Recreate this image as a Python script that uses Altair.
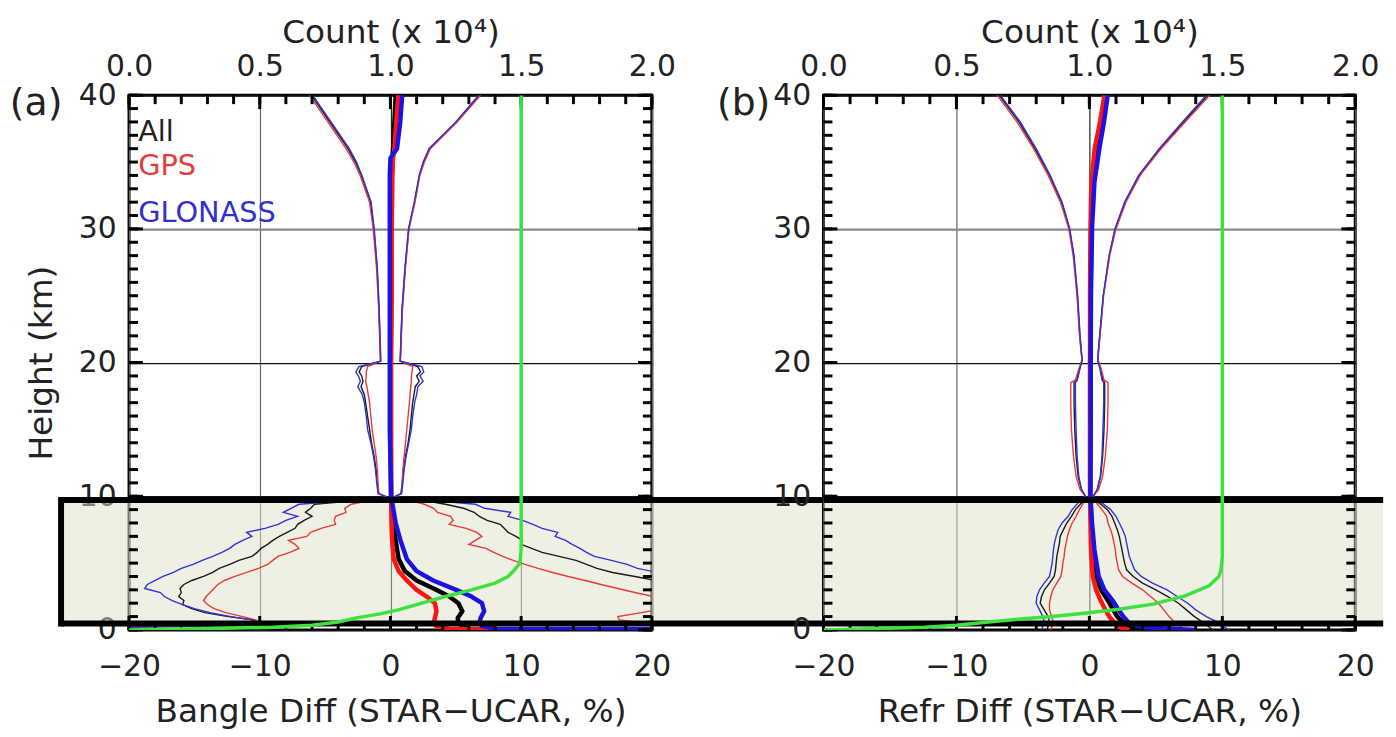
import altair as alt
import pandas as pd

FONT = "DejaVu Sans"
W_A, W_B, H = 527, 536, 539
SPACING = 173

SYSTEMS = ["All", "GPS", "GLONASS"]
ENV_COLORS = {"All": "#1a1a1a", "GPS": "#e83a3a", "GLONASS": "#3232d6"}
MEAN_COLORS = {"All": "#000000", "GPS": "#ff1414", "GLONASS": "#1e12e0"}
TEXT_COLORS = {"All": "#222222", "GPS": "#e83a3a", "GLONASS": "#3030cc"}
GREEN = "#3ee23e"

X_LABELS = [-20, -10, 0, 10, 20]
Y_LABELS = [0, 10, 20, 30, 40]
COUNT_LABELS = [0.0, 0.5, 1.0, 1.5, 2.0]
Y_MINOR = list(range(0, 41))
Y_MAJOR = [0, 10, 20, 30, 40]
X_MINOR = list(range(-20, 21, 2))
X_MAJOR = [-20, -10, 0, 10, 20]
BOX_Y = [0.48, 9.72]

# ---------------- panel (a): bending angle ----------------
A_H = [40, 38, 36, 35, 34, 32, 30, 27, 24, 21, 20.1,
       19.7, 19.3, 19.0, 18.6, 18.2, 17.6, 17.0, 16, 15, 14, 13, 12, 11, 10.2, 9.95,
       9.7, 9.4, 9.1, 8.8, 8.5, 8.2, 7.9, 7.6, 7.3, 7.0,
       6.7, 6.4, 6.1, 5.8, 5.5, 5.2, 4.9, 4.6, 4.3, 4.0,
       3.7, 3.4, 3.1, 2.8, 2.5, 2.2, 1.9, 1.6, 1.3, 1.0,
       0.75, 0.5, 0.3, 0.15, 0.0]
A_ALL_LO = [-6.05, -4.65, -3.25, -2.68, -2.22, -1.52, -1.27, -1.02, -0.88, -0.78, -0.75,
            -2.2, -2.4, -2.2, -2.1, -2.25, -2.0, -1.9, -1.75, -1.6, -1.45, -1.25, -1.1, -1.0, -0.9, -0.3,
            -2.5, -5.8, -6.1, -6.5, -6.0, -6.6, -7.1, -7.3, -7.9, -8.5,
            -9.0, -9.4, -9.9, -10.2, -10.6, -11.6, -12.3, -13.1, -13.6, -14.3,
            -15.2, -15.8, -16.1, -16.0, -16.2, -15.8, -15.9, -15.2, -14.2, -12.4,
            -10.5, -10.1, -12.3, -25.5, -45]
A_GPS_LO = [-6.2, -4.8, -3.4, -2.8, -2.32, -1.6, -1.32, -1.06, -0.9, -0.8, -0.77,
            -1.75, -1.85, -1.85, -1.9, -1.8, -1.7, -1.6, -1.5, -1.4, -1.25, -1.1, -1.0, -0.95, -0.88, -0.3,
            -1.5, -3.0, -3.5, -3.4, -4.2, -4.3, -4.2, -5.3, -6.1, -6.4,
            -7.8, -7.3, -7.0, -7.7, -8.6, -9.0, -9.4, -10.1, -11.0, -11.9,
            -12.7, -13.2, -13.5, -13.8, -14.1, -14.3, -14.0, -13.5, -12.6, -11.3,
            -10.3, -10.0, -12.0, -25, -45]
A_GLO_LO = [-5.95, -4.55, -3.15, -2.6, -2.18, -1.48, -1.24, -1.0, -0.86, -0.76, -0.74,
            -2.4, -2.65, -2.45, -2.3, -2.5, -2.15, -2.0, -1.85, -1.75, -1.5, -1.3, -1.15, -1.05, -0.95, -0.3,
            -3.0, -7.0, -7.6, -8.2, -7.1, -8.0, -8.6, -9.6, -11.0, -10.6,
            -11.3, -11.9, -12.3, -12.9, -13.6, -14.4, -15.1, -16.0, -16.6, -17.4,
            -18.0, -18.6, -18.8, -17.6, -17.3, -16.7, -15.9, -15.0, -13.8, -12.2,
            -10.6, -10.2, -12.5, -26, -45]
A_ALL_HI = [6.8, 5.05, 3.0, 2.55, 2.22, 1.85, 1.4, 1.12, 0.9, 0.78, 0.75,
            2.1, 2.3, 2.0, 2.2, 1.9, 1.8, 1.7, 1.6, 1.5, 1.35, 1.15, 1.0, 0.9, 0.8, 0.3,
            2.5, 4.2, 5.6, 6.4, 6.8, 7.4, 8.4, 8.7, 9.0, 9.6,
            10.1, 10.0, 10.8, 11.6, 12.9, 14.2, 15.0, 15.8, 17.0, 18.7,
            20.3, 21.5, 22.5, 23.5, 24.5, 25.5, 26.5, 27.5, 28.5, 29.5,
            30.5, 32, 35, 40, 45]
A_GPS_HI = [6.9, 5.1, 3.05, 2.6, 2.25, 1.88, 1.42, 1.14, 0.92, 0.8, 0.76,
            1.7, 1.65, 1.6, 1.6, 1.55, 1.5, 1.45, 1.35, 1.25, 1.15, 1.05, 0.95, 0.9, 0.85, 0.3,
            1.5, 2.6, 3.3, 3.6, 4.6, 4.8, 4.5, 5.8, 6.6, 7.0,
            6.5, 6.0, 7.3, 7.9, 8.6, 9.4, 10.3, 11.3, 12.4, 13.6,
            14.9, 16.1, 17.4, 18.7, 20.1, 21.5, 22.2, 21.0, 19.2, 17.4,
            17.5, 19.5, 24, 32, 45]
A_GLO_HI = [6.75, 5.0, 2.95, 2.5, 2.2, 1.82, 1.38, 1.1, 0.88, 0.77, 0.74,
            2.4, 2.55, 2.25, 2.5, 2.1, 2.0, 1.85, 1.7, 1.6, 1.4, 1.2, 1.05, 0.95, 0.85, 0.3,
            3.0, 6.5, 7.2, 9.2, 9.0, 10.1, 10.9, 11.6, 12.8, 12.6,
            13.4, 13.9, 14.5, 15.0, 15.6, 16.9, 18.1, 18.9, 20.4, 21.5,
            22.5, 23.5, 24.5, 25.5, 26.5, 27.5, 28.5, 29.5, 30.5, 31.5,
            32.5, 34, 37, 41, 45]
A_MH = [40, 38, 36, 35.3, 34, 30, 25, 20, 15, 10, 8.0, 6.75, 5.3, 4.4, 3.7, 3.0, 2.5, 2.0, 1.4, 0.9, 0.5, 0.3, 0.08, 0.0]
A_ALL_M = [0.4, 0.3, 0.2, 0.15, 0.1, 0.05, 0.05, 0.02, 0.02, 0.05, 0.2, 0.38, 0.63, 1.1, 2.0, 3.5, 4.5, 5.2, 5.5, 5.15, 5.2, 5.5, 6.0, 16]
A_GPS_M = [0.6, 0.45, 0.3, 0.2, 0.15, 0.1, 0.1, 0.05, 0.05, 0.05, 0.08, 0.12, 0.25, 0.63, 1.25, 2.0, 2.77, 3.4, 3.52, 3.4, 3.3, 3.5, 4.5, 12.5]
A_GLO_M = [0.9, 0.75, 0.5, 0.0, -0.05, -0.05, -0.05, -0.05, -0.05, 0.05, 0.4, 0.75, 1.25, 2.0, 3.27, 5.03, 6.2, 7.0, 7.17, 6.9, 6.8, 7.0, 8.0, 40]
A_CH = [40, 6.0, 5.0, 4.5, 4.0, 3.5, 3.0, 2.5, 2.0, 1.5, 1.2, 0.9, 0.6, 0.35, 0.2, 0.1, 0.0]
A_CNT = [1.5, 1.5, 1.495, 1.475, 1.45, 1.40, 1.31, 1.21, 1.12, 1.03, 0.96, 0.87, 0.8, 0.7, 0.55, 0.3, 0.0]

# ---------------- panel (b): refractivity ----------------
B_H = [40, 38, 36, 34, 32, 30, 28, 25, 22, 20.2,
       19.5, 18.7, 18.5, 17, 15, 13, 11.5, 10.5, 10.0,
       9.6, 9.0, 8.5, 8.0, 7.5, 7.0, 6.5, 6.0, 5.5, 5.0, 4.5,
       4.0, 3.5, 3.0, 2.5, 2.0, 1.5, 1.0, 0.6, 0.3, 0.0]
B_ALL_LO = [-6.8, -5.3, -4.1, -3.0, -2.1, -1.5, -1.18, -0.9, -0.72, -0.55,
            -0.75, -0.95, -1.15, -1.15, -1.1, -1.0, -0.85, -0.6, -0.3,
            -0.5, -1.05, -1.35, -1.7, -1.95, -2.2, -2.25, -2.35, -2.45, -2.5, -2.55,
            -2.65, -3.0, -3.38, -3.6, -3.7, -3.4, -3.1, -3.0, -3.1, -3.2]
B_GPS_LO = [-6.95, -5.45, -4.2, -3.1, -2.18, -1.55, -1.22, -0.93, -0.74, -0.56,
            -0.8, -1.05, -1.4, -1.4, -1.35, -1.2, -1.0, -0.7, -0.3,
            -0.38, -0.75, -1.0, -1.3, -1.5, -1.65, -1.75, -1.85, -1.9, -2.0, -2.05,
            -2.15, -2.45, -2.75, -2.9, -3.0, -3.0, -2.85, -2.7, -2.8, -2.9]
B_GLO_LO = [-6.7, -5.2, -4.0, -2.95, -2.05, -1.47, -1.16, -0.88, -0.7, -0.54,
            -0.72, -0.9, -1.05, -1.05, -1.0, -0.92, -0.8, -0.58, -0.3,
            -0.75, -1.3, -1.6, -2.05, -2.35, -2.5, -2.63, -2.7, -2.75, -2.8, -2.9,
            -3.0, -3.4, -3.75, -3.95, -4.0, -3.75, -3.5, -3.4, -3.5, -3.6]
B_ALL_HI = [8.9, 7.1, 5.3, 3.75, 2.7, 1.95, 1.5, 1.05, 0.78, 0.63,
            0.85, 1.0, 1.15, 1.15, 1.1, 1.0, 0.85, 0.6, 0.3,
            0.6, 1.35, 1.7, 1.9, 2.1, 2.25, 2.35, 2.45, 2.55, 2.65, 2.8,
            3.3, 4.0, 5.0, 5.9, 6.7, 7.3, 7.9, 8.5, 8.9, 9.3]
B_GPS_HI = [9.05, 7.2, 5.4, 3.82, 2.75, 2.0, 1.53, 1.07, 0.8, 0.64,
            0.9, 1.1, 1.4, 1.4, 1.35, 1.2, 1.0, 0.7, 0.3,
            0.45, 0.95, 1.3, 1.4, 1.6, 1.75, 1.85, 1.95, 2.0, 2.1, 2.2,
            2.5, 3.2, 4.0, 4.6, 5.2, 5.6, 6.0, 6.4, 6.8, 7.2]
B_GLO_HI = [8.8, 7.0, 5.25, 3.7, 2.65, 1.92, 1.48, 1.04, 0.77, 0.62,
            0.8, 0.95, 1.08, 1.08, 1.02, 0.95, 0.82, 0.58, 0.3,
            0.8, 1.6, 2.0, 2.25, 2.5, 2.7, 2.8, 2.9, 3.0, 3.2, 3.4,
            3.9, 4.75, 5.85, 6.6, 7.4, 8.0, 8.8, 9.6, 10.0, 10.5]
B_MH = [40, 38, 36, 33.5, 30, 25, 20, 15, 10, 8, 6, 4, 3, 2.2, 1.5, 1.0, 0.5, 0.2, 0.0]
B_ALL_M = [1.2, 0.95, 0.6, 0.3, 0.15, 0.08, 0.06, 0.06, 0.06, 0.15, 0.25, 0.5, 0.88, 1.4, 1.8, 2.1, 2.6, 3.2, 5.0]
B_GPS_M = [1.13, 0.8, 0.4, 0.15, 0.08, 0.05, 0.05, 0.05, 0.05, 0.08, 0.12, 0.25, 0.5, 0.85, 1.2, 1.5, 1.9, 2.3, 3.0]
B_GLO_M = [1.38, 1.1, 0.75, 0.38, 0.2, 0.12, 0.1, 0.1, 0.08, 0.2, 0.38, 0.7, 1.13, 1.75, 2.2, 2.55, 3.0, 4.0, 8.0]
B_CH = [40, 5.5, 4.5, 4.0, 3.3, 2.55, 1.93, 1.55, 1.26, 1.0, 0.82, 0.6, 0.35, 0.2, 0.1, 0.0]
B_CNT = [1.5, 1.5, 1.495, 1.487, 1.45, 1.36, 1.24, 1.11, 0.99, 0.86, 0.74, 0.62, 0.5, 0.38, 0.2, 0.0]


def curve_df(h, vals, kind):
    return pd.DataFrame({"h": h, "v": vals, "idx": list(range(len(h))), "kind": kind})


def make_panel(width, env_h, env, mean_h, means, cnt_h, cnt, xtitle, ytitle,
               tag, tag_x, box_x1, box_x2, left_border, legend):
    xs = alt.Scale(domain=[-20, 20], nice=False, zero=False)
    ys = alt.Scale(domain=[0, 40], nice=False, zero=False)
    ax_x = alt.Axis(values=X_LABELS, title=xtitle, ticks=False, domain=False, grid=True,
                    gridColor={"condition": {"test": "datum.value === 0", "value": "#222222"}, "value": "#666666"},
                    gridWidth=1.2, labelPadding=22, titlePadding=14, labelFlush=False)
    ax_y = alt.Axis(values=Y_LABELS, title=ytitle, ticks=False, domain=False, grid=True,
                    gridColor={"condition": {"test": "datum.value === 30", "value": "#8a8a8a"}, "value": "#111111"},
                    gridWidth={"condition": {"test": "datum.value === 30", "value": 2.5}, "value": 1.2},
                    labelPadding=13, titlePadding=20, labelFlush=False)

    def X(f):
        return alt.X(f, type="quantitative", scale=xs, axis=ax_x)

    def Y(f):
        return alt.Y(f, type="quantitative", scale=ys, axis=ax_y)

    layers = []
    box = pd.DataFrame({"x1": [box_x1], "x2": [box_x2], "y1": [BOX_Y[0]], "y2": [BOX_Y[1]]})
    layers.append(alt.Chart(box).mark_rect(color="#dde2c8", opacity=0.5, clip=False)
                  .encode(x=X("x1"), x2="x2", y=Y("y1"), y2="y2"))

    for s in SYSTEMS:
        lo, hi = env[s]
        df = pd.concat([curve_df(env_h, lo, "lo"), curve_df(env_h, hi, "hi")])
        layers.append(alt.Chart(df).mark_line(color=ENV_COLORS[s], strokeWidth=1.4, clip=True)
                      .encode(x=X("v"), y=Y("h"), detail="kind:N", order="idx:Q"))
    for s in SYSTEMS:
        df = curve_df(mean_h, means[s], "mean")
        layers.append(alt.Chart(df).mark_line(color=MEAN_COLORS[s], strokeWidth=4.5, clip=True,
                                              strokeJoin="round")
                      .encode(x=X("v"), y=Y("h"), order="idx:Q"))

    # inward ticks on all four sides (tick length in pixels, converted to data units)
    kx = 40.0 / width
    ky = 40.0 / H
    trows = []
    for vals, ln in ((Y_MINOR, 9), (Y_MAJOR, 14)):
        for t in vals:
            trows.append({"tx1": -20.0, "tx2": -20 + ln * kx, "ty1": float(t), "ty2": float(t)})
            trows.append({"tx1": 20 - ln * kx, "tx2": 20.0, "ty1": float(t), "ty2": float(t)})
    for vals, ln in ((X_MINOR, 9), (X_MAJOR, 14)):
        for t in vals:
            trows.append({"tx1": float(t), "tx2": float(t), "ty1": 40.0, "ty2": 40 - ln * ky})
            trows.append({"tx1": float(t), "tx2": float(t), "ty1": 0.0, "ty2": ln * ky})
    layers.append(alt.Chart(pd.DataFrame(trows)).mark_rule(color="black", strokeWidth=3, clip=False)
                  .encode(x=X("tx1"), x2="tx2", y=Y("ty1"), y2="ty2"))

    # box border
    hb = pd.DataFrame({"x1": [box_x1, box_x1], "x2": [box_x2, box_x2], "y": BOX_Y})
    layers.append(alt.Chart(hb).mark_rule(color="black", strokeWidth=6, clip=False)
                  .encode(x=X("x1"), x2="x2", y=Y("y")))
    if left_border:
        vb = pd.DataFrame({"x1": [box_x1], "y1": [BOX_Y[0] - 0.22], "y2": [BOX_Y[1] + 0.22]})
        layers.append(alt.Chart(vb).mark_rule(color="black", strokeWidth=6, clip=False)
                      .encode(x=X("x1"), y=Y("y1"), y2="y2"))

    # panel tag
    tg = pd.DataFrame({"x": [tag_x], "y": [39.3], "t": [tag]})
    layers.append(alt.Chart(tg).mark_text(align="right", baseline="middle", font=FONT, fontSize=38,
                                          color="#222222", clip=False)
                  .encode(x=X("x"), y=Y("y"), text="t:N"))
    if legend:
        lg = pd.DataFrame({"x": [-19.3, -19.3, -19.3], "y": [37.25, 34.7, 31.2], "t": SYSTEMS,
                           "c": [TEXT_COLORS[s] for s in SYSTEMS]})
        layers.append(alt.Chart(lg).mark_text(align="left", baseline="middle", font=FONT, fontSize=29)
                      .encode(x=X("x"), y=Y("y"), text="t:N", color=alt.Color("c:N", scale=None)))

    inner = alt.layer(*layers)
    cdf = pd.DataFrame({"h": cnt_h, "c": cnt, "idx": list(range(len(cnt_h)))})
    count = alt.Chart(cdf).mark_line(color=GREEN, strokeWidth=3.5, clip=True).encode(
        x=alt.X("c:Q", scale=alt.Scale(domain=[0, 2], nice=False, zero=False),
                axis=alt.Axis(orient="top", values=COUNT_LABELS, format=".1f", title="Count (x 10⁴)",
                              ticks=False, domain=False, grid=False, labelPadding=14, titlePadding=2,
                              labelFlush=False)),
        y=Y("h"), order="idx:Q")
    return alt.layer(inner, count).resolve_scale(x="independent").properties(width=width, height=H)


gap_x = 20 + SPACING * 40.0 / W_A
pa = make_panel(W_A, A_H,
                {"All": (A_ALL_LO, A_ALL_HI), "GPS": (A_GPS_LO, A_GPS_HI), "GLONASS": (A_GLO_LO, A_GLO_HI)},
                A_MH, {"All": A_ALL_M, "GPS": A_GPS_M, "GLONASS": A_GLO_M},
                A_CH, A_CNT, "Bangle Diff (STAR−UCAR, %)", "Height (km)",
                "(a)", -25.1, -25.2, gap_x, True, True)
pb = make_panel(W_B, B_H,
                {"All": (B_ALL_LO, B_ALL_HI), "GPS": (B_GPS_LO, B_GPS_HI), "GLONASS": (B_GLO_LO, B_GLO_HI)},
                B_MH, {"All": B_ALL_M, "GPS": B_GPS_M, "GLONASS": B_GLO_M},
                B_CH, B_CNT, "Refr Diff (STAR−UCAR, %)", None,
                "(b)", -24.0, -20, 22.1, False, False)

chart = alt.hconcat(pa, pb, spacing=SPACING, bounds="flush").configure_view(
    stroke="black", strokeWidth=3
).configure_axis(
    labelFont=FONT, titleFont=FONT, labelFontSize=30, titleFontSize=33,
    labelColor="#222222", titleColor="#222222", titleFontWeight="normal"
).properties(padding={"left": 0, "top": 4, "right": 0, "bottom": 2}, background="white")

chart.save("out.html", embed_options={"renderer": "svg", "actions": False})
